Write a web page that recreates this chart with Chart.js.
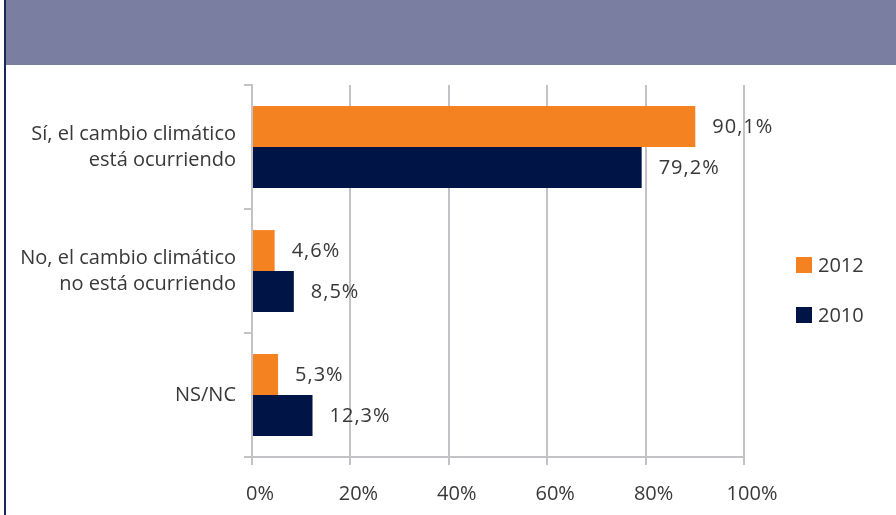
<!DOCTYPE html>
<html>
<head>
<meta charset="utf-8">
<script src="https://cdn.jsdelivr.net/npm/chart.js@4"></script>
<style>
  html, body { margin: 0; padding: 0; background: #ffffff; }
  #wrap { position: relative; width: 896px; height: 515px; }
</style>
</head>
<body>
<div id="wrap"><canvas id="chart" width="896" height="515"></canvas></div>
<script>
// Chart data
const categories = [
  ['Sí, el cambio climático', 'está ocurriendo'],
  ['No, el cambio climático', 'no está ocurriendo'],
  'NS/NC'
];
const seriesNames = ['2012', '2010'];
const values2012 = [90.1, 4.6, 5.3];
const values2010 = [79.2, 8.5, 12.3];
const xTicks = [0, 20, 40, 60, 80, 100];

const ORANGE = '#f58220';
const NAVY = '#001446';
const GRID = '#c3c3c7';
const TEXT = '#383838';
const FONT = "'Open Sans', 'Noto Sans', sans-serif";

function fmt(v) {
  return v.toFixed(1).replace('.', ',') + '%';
}

// header band + left border
const framePlugin = {
  id: 'frame',
  beforeDraw(chart) {
    const c = chart.ctx;
    c.save();
    c.fillStyle = '#7a7fa1';
    c.fillRect(6, 0, chart.width - 6, 65);
    c.fillStyle = '#1c2558';
    c.fillRect(4, 0, 2, chart.height);
    c.restore();
  }
};

// value labels next to each bar
const valueLabels = {
  id: 'valueLabels',
  afterDatasetsDraw(chart) {
    const c = chart.ctx;
    c.save();
    c.font = '20px ' + FONT;
    c.letterSpacing = '1px';
    c.fillStyle = TEXT;
    c.textAlign = 'left';
    c.textBaseline = 'middle';
    chart.data.datasets.forEach((ds, i) => {
      chart.getDatasetMeta(i).data.forEach((bar, j) => {
        c.fillText(fmt(ds.data[j]), bar.x + 17, bar.y + 1);
      });
    });
    c.restore();
  }
};

// legend on the right
const sideLegend = {
  id: 'sideLegend',
  afterDraw(chart) {
    const c = chart.ctx;
    const colors = [ORANGE, NAVY];
    c.save();
    c.font = '20px ' + FONT;
    c.textBaseline = 'middle';
    seriesNames.forEach((name, i) => {
      const y = 265 + i * 50;
      c.fillStyle = colors[i];
      c.fillRect(796, y - 8, 16, 16);
      c.fillStyle = TEXT;
      c.fillText(name, 818, y + 1);
    });
    c.restore();
  }
};

new Chart(document.getElementById('chart'), {
  type: 'bar',
  data: {
    labels: categories,
    datasets: [{
      label: seriesNames[0],
      data: values2012,
      backgroundColor: ORANGE,
      barPercentage: 1.0,
      categoryPercentage: 0.66
    }, {
      label: seriesNames[1],
      data: values2010,
      backgroundColor: NAVY,
      barPercentage: 1.0,
      categoryPercentage: 0.66
    }]
  },
  options: {
    indexAxis: 'y',
    responsive: false,
    animation: false,
    layout: {
      padding: { top: 85, right: 152, bottom: 0, left: 0 }
    },
    plugins: {
      legend: { display: false },
      tooltip: { enabled: false }
    },
    scales: {
      x: {
        min: 0,
        max: 100,
        afterBuildTicks(scale) {
          scale.ticks = xTicks.map(v => ({ value: v }));
        },
        afterFit(scale) { scale.height = 58; },
        ticks: {
          color: TEXT,
          font: { family: FONT, size: 20 },
          padding: 17,
          labelOffset: 8,
          callback: v => v + '%'
        },
        grid: {
          color: GRID,
          lineWidth: 2,
          tickLength: 8
        },
        border: { color: GRID, width: 2 }
      },
      y: {
        afterFit(scale) { scale.width = 252; },
        ticks: {
          color: TEXT,
          font: { family: FONT, size: 20, lineHeight: 1.3 },
          padding: 8
        },
        grid: {
          drawOnChartArea: false,
          color: GRID,
          lineWidth: 2,
          tickLength: 8
        },
        border: { color: GRID, width: 2 }
      }
    }
  },
  plugins: [framePlugin, valueLabels, sideLegend]
});
</script>
</body>
</html>
